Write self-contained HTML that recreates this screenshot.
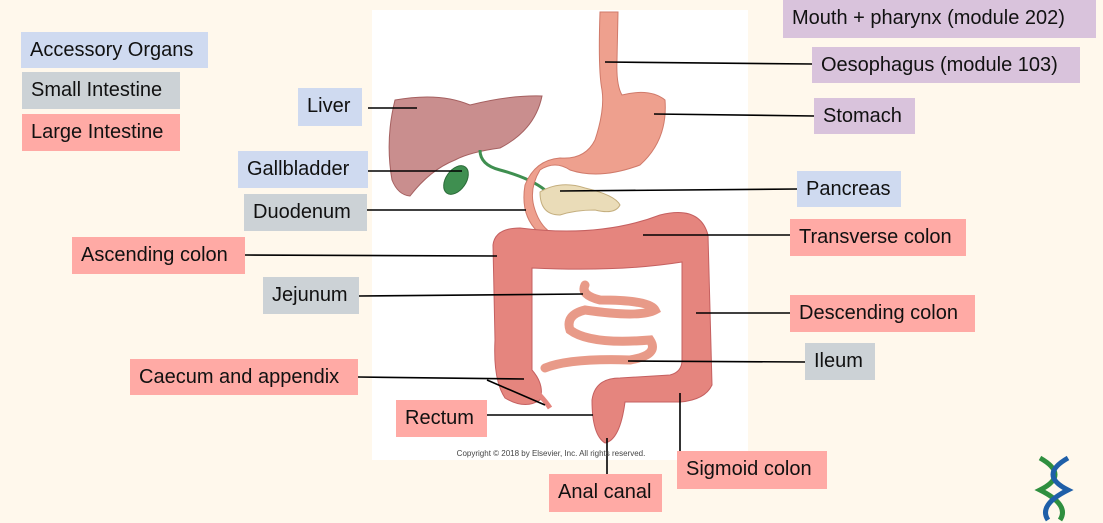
<!DOCTYPE html>
<html><head><meta charset="utf-8"><style>
body{margin:0;width:1103px;height:523px;background:#fff8ec;position:relative;overflow:hidden;font-family:"Liberation Sans",sans-serif}
.l{position:absolute;font-size:20px;color:#111;line-height:36px;padding-left:9px;box-sizing:border-box;white-space:nowrap}
.b{background:#cfdaf0}.g{background:#ccd2d6}.r{background:#ffaaa5}.p{background:#d9c3dc}
svg{position:absolute;left:0;top:0}
</style></head><body>
<div style="position:absolute;left:372px;top:10px;width:376px;height:450px;background:#fff"></div>
<svg width="1103" height="523">
<!-- liver -->
<path d="M395,100 Q440,92 470,105 Q510,95 542,96 Q535,130 500,148 Q470,152 455,160 Q430,170 410,196 Q398,195 392,180 Q385,140 395,100Z" fill="#c98e8e" stroke="#a56060"/>
<!-- gallbladder -->
<ellipse cx="456" cy="180" rx="10" ry="16" transform="rotate(35 456 180)" fill="#3f8f50" stroke="#2a6a38"/>
<path d="M480,150 Q480,165 500,170 Q530,178 545,190" stroke="#3f8f50" stroke-width="3" fill="none"/>
<!-- esophagus and stomach -->
<path d="M600,12 L618,12 L617,60 Q616,85 622,95 Q650,88 665,100 Q668,140 640,165 Q600,180 570,170 Q555,160 540,170 Q528,190 535,210 Q540,225 550,232 L538,232 Q520,215 525,185 Q535,160 560,158 Q585,160 595,140 Q605,110 602,90 Q598,70 600,12Z" fill="#eea08e" stroke="#d07a6a"/>
<!-- pancreas -->
<path d="M540,192 Q560,180 585,188 Q615,195 620,205 Q615,215 595,210 Q575,210 560,215 Q540,215 540,192Z" fill="#eadcb8" stroke="#c4ae7e"/>
<!-- small intestine -->
<path d="M585,285 Q580,295 600,300 Q650,300 655,310 Q640,318 585,310 Q565,315 570,330 Q590,345 650,340 Q660,355 630,360 Q570,358 545,368" stroke="#e89a88" stroke-width="9" fill="none" stroke-linecap="round"/>
<!-- colon -->
<path d="M493,245 Q495,228 520,228 Q600,238 660,215 Q700,205 708,235 L712,385 Q705,400 680,402 L625,402 Q620,440 605,443 Q592,435 592,400 Q595,378 620,378 L670,375 Q682,372 682,360 L682,262 Q620,272 532,268 L532,370 Q545,385 540,400 Q525,410 505,398 Q493,380 495,340Z" fill="#e5857e" stroke="#c56060"/>
<path d="M530,385 Q545,400 550,408" stroke="#e5857e" stroke-width="5" fill="none"/>
<g stroke="#000" stroke-width="1.6">
<line x1="368" y1="108" x2="417" y2="108"/>
<line x1="368" y1="171" x2="462" y2="171"/>
<line x1="367" y1="210" x2="526" y2="210"/>
<line x1="245" y1="255" x2="497" y2="256"/>
<line x1="359" y1="296" x2="583" y2="294"/>
<line x1="358" y1="377" x2="524" y2="379"/>
<line x1="487" y1="380" x2="545" y2="405"/>
<line x1="487" y1="415" x2="593" y2="415"/>
<line x1="607" y1="438" x2="607" y2="474"/>
<line x1="680" y1="393" x2="680" y2="451"/>
<line x1="805" y1="362" x2="628" y2="361"/>
<line x1="790" y1="313" x2="696" y2="313"/>
<line x1="790" y1="235" x2="643" y2="235"/>
<line x1="797" y1="189" x2="560" y2="191"/>
<line x1="814" y1="116" x2="654" y2="114"/>
<line x1="812" y1="64" x2="605" y2="62"/>
</g>
<text x="551" y="456" font-size="8" fill="#444" text-anchor="middle" font-family="Liberation Sans">Copyright © 2018 by Elsevier, Inc. All rights reserved.</text>
<g stroke-width="5" fill="none">
<path d="M1040,458 Q1070,475 1040,490 Q1070,505 1060,520" stroke="#2f8f3f"/>
<path d="M1068,458 Q1038,475 1068,490 Q1038,505 1048,520" stroke="#1f5fa8"/>
</g>
</svg>
<div class="l b" style="left:21px;top:32px;width:187px;height:36px">Accessory Organs</div>
<div class="l g" style="left:22px;top:72px;width:158px;height:37px">Small Intestine</div>
<div class="l r" style="left:22px;top:114px;width:158px;height:37px">Large Intestine</div>
<div class="l p" style="left:783px;top:0;width:313px;height:38px">Mouth + pharynx (module 202)</div>
<div class="l p" style="left:812px;top:47px;width:268px;height:36px">Oesophagus (module 103)</div>
<div class="l p" style="left:814px;top:98px;width:101px;height:36px">Stomach</div>
<div class="l b" style="left:298px;top:88px;width:64px;height:38px">Liver</div>
<div class="l b" style="left:238px;top:151px;width:130px;height:37px">Gallbladder</div>
<div class="l b" style="left:797px;top:171px;width:104px;height:36px">Pancreas</div>
<div class="l g" style="left:244px;top:194px;width:123px;height:37px">Duodenum</div>
<div class="l r" style="left:790px;top:219px;width:176px;height:37px">Transverse colon</div>
<div class="l r" style="left:72px;top:237px;width:173px;height:37px">Ascending colon</div>
<div class="l g" style="left:263px;top:277px;width:96px;height:37px">Jejunum</div>
<div class="l r" style="left:790px;top:295px;width:185px;height:37px">Descending colon</div>
<div class="l g" style="left:805px;top:343px;width:70px;height:37px">Ileum</div>
<div class="l r" style="left:130px;top:359px;width:228px;height:36px">Caecum and appendix</div>
<div class="l r" style="left:396px;top:400px;width:91px;height:37px">Rectum</div>
<div class="l r" style="left:677px;top:451px;width:150px;height:38px">Sigmoid colon</div>
<div class="l r" style="left:549px;top:474px;width:113px;height:38px">Anal canal</div>
</body></html>
